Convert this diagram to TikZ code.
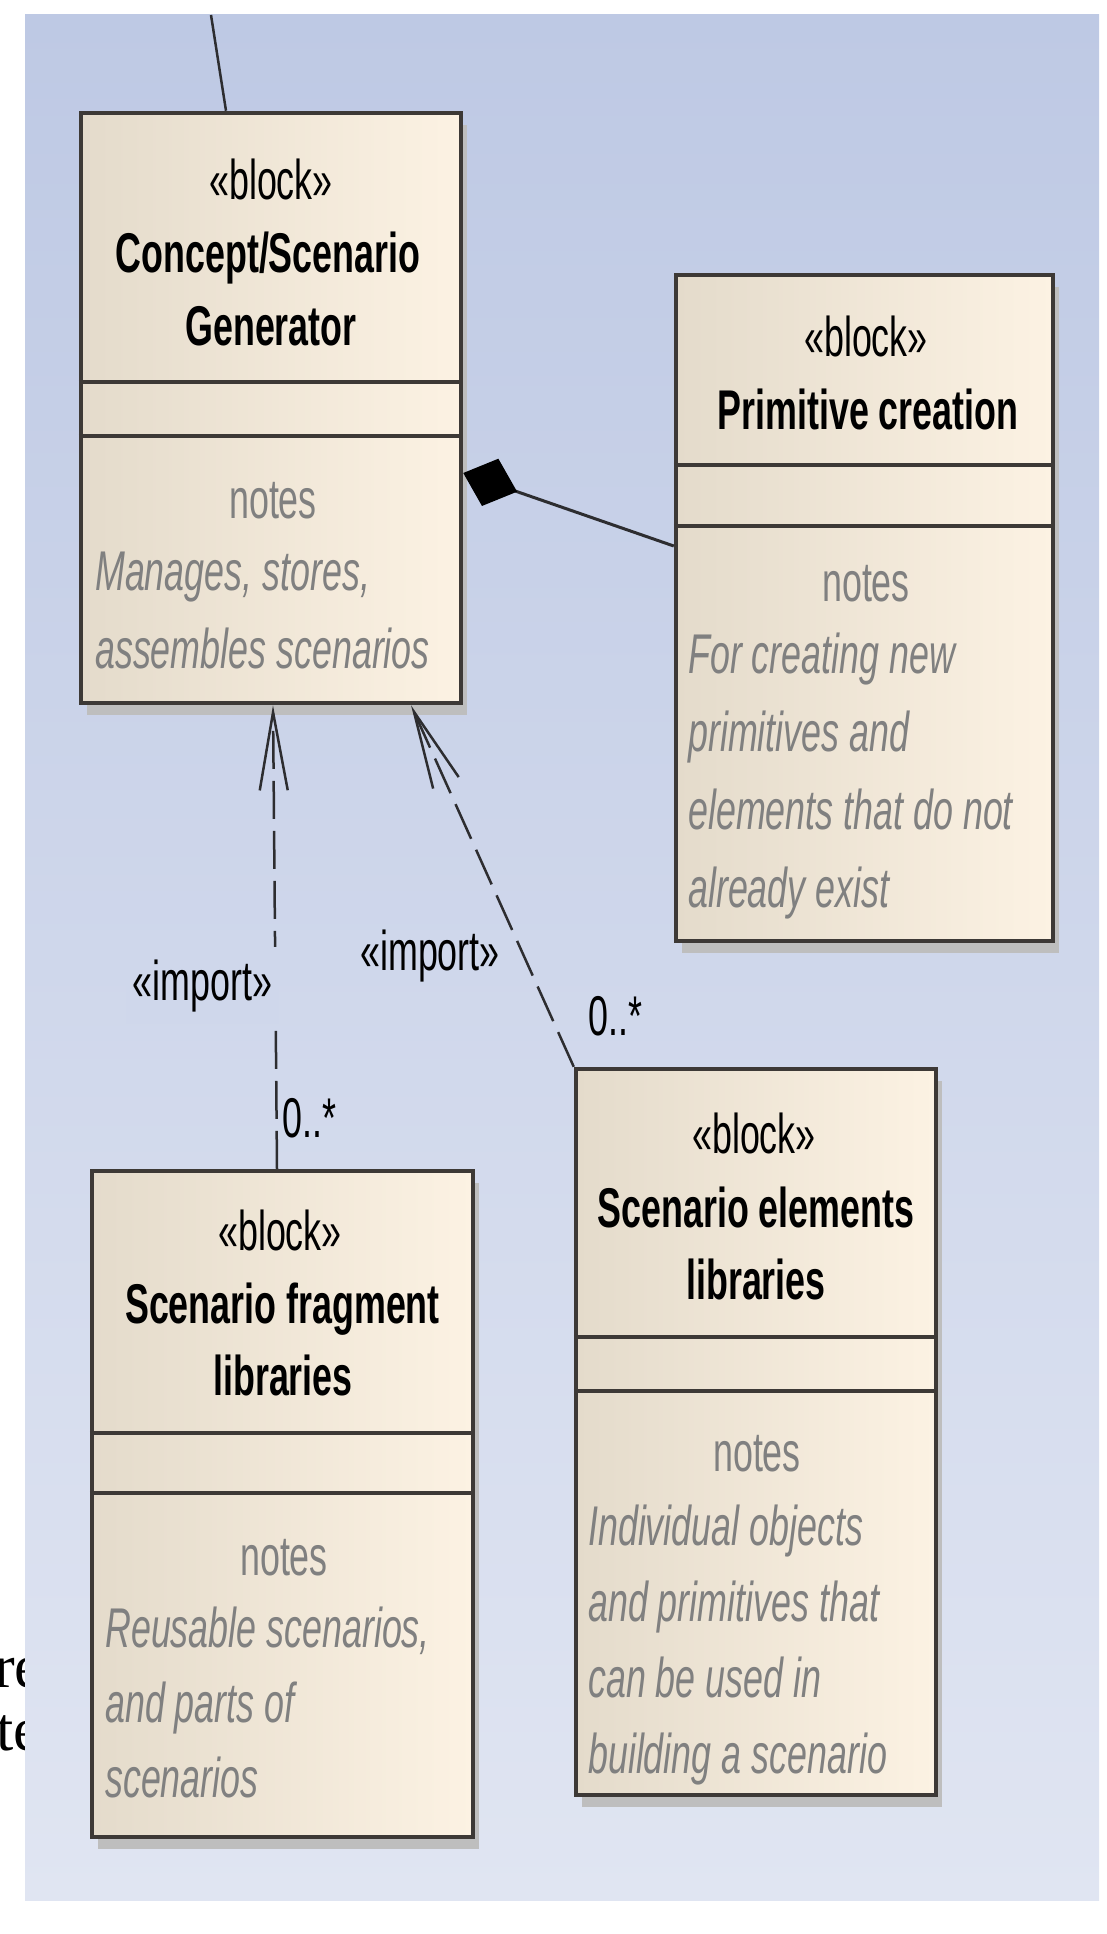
\documentclass[tikz,border=0pt]{standalone}
\usepackage{fontspec}
\setmainfont{Liberation Sans}[FakeStretch=0.64]
\newfontfamily\cutfont{Liberation Serif}
\usetikzlibrary{arrows.meta,shadows}

\definecolor{bgtop}{RGB}{190,201,228}
\definecolor{bgbot}{RGB}{224,229,242}
\definecolor{bgmid}{RGB}{207,215,235}
\definecolor{boxl}{RGB}{228,219,203}
\definecolor{boxr}{RGB}{252,242,227}
\definecolor{edgecol}{RGB}{61,57,54}
\definecolor{shadowcol}{RGB}{190,190,190}
\definecolor{notecol}{RGB}{128,128,128}
\definecolor{linecol}{RGB}{45,45,48}

\begin{document}
\begin{tikzpicture}[x=1pt,y=-1pt]

\tikzstyle{blk}=[draw=edgecol, line width=4.5pt, left color=boxl, right color=boxr, inner sep=0pt,
  drop shadow={shadow xshift=6pt, shadow yshift=-12pt, fill=shadowcol, opacity=1}];
\tikzstyle{cmpt}=[draw=edgecol, line width=4.5pt];
\tikzstyle{ster}=[inner sep=0pt, anchor=base, font=\fontsize{56}{68}\selectfont];
\tikzstyle{ttl}=[ster, font=\fontsize{56}{68}\selectfont\bfseries];
\tikzstyle{nl}=[ster, text=notecol];
\tikzstyle{nt}=[ster, anchor=base west, text=notecol, font=\fontsize{56}{68}\selectfont\itshape];
\tikzstyle{lbl}=[ster];
\tikzstyle{assoc}=[draw=linecol, line width=2.5pt];
\tikzstyle{dep}=[draw=linecol, line width=2.5pt, dash pattern=on 38pt off 12pt, -{Straight Barb[length=78pt,width=28pt]}];
\tikzstyle{comp}=[draw=linecol, line width=3pt, -{Diamond[length=57pt,width=50pt,color=black,fill=black]}];

\useasboundingbox (0,0) rectangle (1107,1934);

% page text left of the figure
\node[anchor=base west, inner sep=0pt, font=\cutfont\fontsize{62}{70}\selectfont] (cutre) at (-6,1687) {re};
\node[anchor=base west, inner sep=0pt, font=\cutfont\fontsize{62}{70}\selectfont] (cutte) at (-4,1750) {te};

\shade[top color=bgtop, bottom color=bgbot] (25,15) rectangle (1099,1900);

% blocks
\node[blk, minimum width=380pt, minimum height=590pt] (gen) at (271, 408) {};
\node[blk, minimum width=377pt, minimum height=666pt] (prim) at (864.5, 608) {};
\node[blk, minimum width=381pt, minimum height=666pt] (frag) at (282.5, 1504) {};
\node[blk, minimum width=360pt, minimum height=726pt] (elem) at (756, 1432) {};

\foreach \b/\p/\q in {gen/271/325, prim/192/253, frag/264/324, elem/270/324} {
  \draw[cmpt] ([yshift=-\p pt]\b.north west) -- ([yshift=-\p pt]\b.north east);
  \draw[cmpt] ([yshift=-\q pt]\b.north west) -- ([yshift=-\q pt]\b.north east);
}

\node[ster] (gen-s) at (271, 200) {«block»};
\node[ttl] (gen-t1) at (268, 273) {Concept/Scenario};
\node[ttl] (gen-t2) at (271, 345) {Generator};
\node[nl] (gen-n) at (273, 518) {notes};
\foreach \nt [count=\i] in {{Manages, stores,}, {assembles scenarios}}
  \node[nt] (gen-b\i) at (95, 512+78*\i) {\nt};

\node[ster] (prim-s) at (866, 356) {«block»};
\node[ttl] (prim-t1) at (868, 429) {Primitive creation};
\node[nl] (prim-n) at (866, 601) {notes};
\foreach \nt [count=\i] in {For creating new, primitives and, elements that do not, already exist}
  \node[nt] (prim-b\i) at (688, 595+78*\i) {\nt};

\node[ster] (frag-s) at (280, 1250) {«block»};
\node[ttl] (frag-t1) at (282.5, 1323) {Scenario fragment};
\node[ttl] (frag-t2) at (283, 1395) {libraries};
\node[nl] (frag-n) at (284, 1575) {notes};
\foreach \nt [count=\i] in {{Reusable scenarios,}, and parts of, scenarios}
  \node[nt] (frag-b\i) at (105, 1572+75*\i) {\nt};

\node[ster] (elem-s) at (754, 1153) {«block»};
\node[ttl] (elem-t1) at (756, 1227) {Scenario elements};
\node[ttl] (elem-t2) at (756, 1299) {libraries};
\node[nl] (elem-n) at (757, 1471) {notes};
\foreach \nt [count=\i] in {Individual objects, and primitives that, can be used in, building a scenario}
  \node[nt] (elem-b\i) at (588, 1469+76*\i) {\nt};

% connectors
\coordinate (up) at (211, 15);
\draw[assoc] (up) -- ([xshift=-45pt]gen.north);

\draw[comp] ([yshift=62pt]prim.west) -- ([yshift=-65pt]gen.east);

\draw[dep] ([xshift=-5.5pt]frag.north) -- ([xshift=2pt]gen.south);
\draw[dep] (elem.north west) -- ([xshift=140pt]gen.south);

\node[lbl, fill=bgmid, inner xsep=7pt, inner ysep=12pt] (imp1) at (202.5, 1000) {«import»};
\node[lbl, anchor=base west] (mul1) at (282, 1137) {0..*};
\node[lbl] (imp2) at (430, 970) {«import»};
\node[lbl, anchor=base west] (mul2) at (588, 1035) {0..*};

\end{tikzpicture}
\end{document}
